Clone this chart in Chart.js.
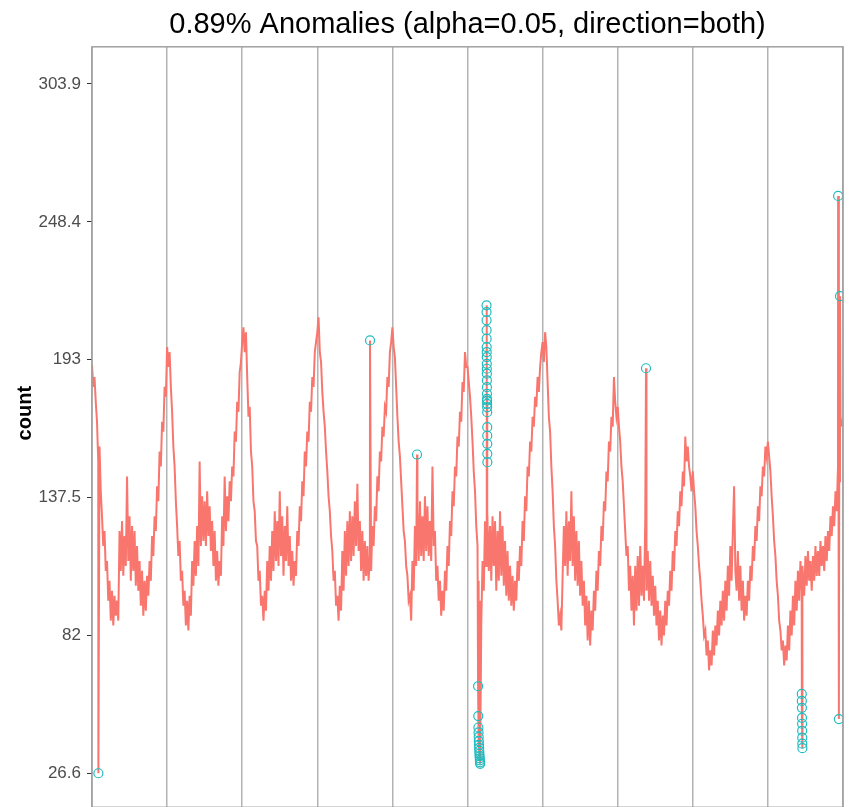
<!DOCTYPE html>
<html><head><meta charset="utf-8">
<script src="https://cdn.jsdelivr.net/npm/chart.js@4.4.1/dist/chart.umd.min.js"></script>
<style>html,body{margin:0;padding:0;background:#fff;overflow:hidden}#wrap{width:850px;height:813px}</style>
</head><body><div id="wrap"><canvas id="c" width="850" height="813"></canvas></div>
<script>
const titleText = '0.89% Anomalies (alpha=0.05, direction=both)';
const yAxisTitle = '     count';
const yTicks = [26.6, 82, 137.5, 193, 248.4, 303.9];
const yTickLabels = ['26.6', '82', '137.5', '193', '248.4', '303.9'];
const periodCount = 10;

// observed counts, one array per period (grid section)
const week1 = [191,182,186,176,168,152,158,140,130,118,124,108,112,96,104,88,100,86,98,90,96,88,124,108,128,106,122,110,146,112,130,104,126,108,124,102,118,100,112,94,108,90,104,92,106,98,112,104,122,114,130,124,142,136,156,150,168,164,182,178];
const week2 = [198,190,196,182,172,158,150,136,126,114,120,104,108,94,100,86,96,84,98,90,112,102,120,106,126,110,152,118,138,120,136,118,140,122,134,116,128,110,124,104,116,102,112,106,130,118,146,124,138,128,144,136,150,146,164,160,176,172,188,192];
const week3 = [200,206,196,204,186,170,174,156,150,136,132,120,118,104,108,94,98,88,100,92,112,100,118,104,124,108,132,112,128,110,140,114,130,106,126,112,134,110,122,104,116,102,112,106,124,118,134,128,144,138,156,150,164,160,176,172,186,182,196,200];
const week4 = [204,210,196,192,180,172,166,156,148,138,132,122,116,104,108,94,98,88,102,92,116,100,124,106,128,110,132,112,130,114,136,118,143,116,128,108,124,104,120,106,118,104,114,108,126,118,134,128,146,140,156,152,166,162,174,172,186,182,196,200];
const week5 = [206,198,194,182,170,160,154,144,134,124,120,110,106,96,98,88,112,100,126,110,132,112,136,114,130,112,138,116,134,114,128,112,150,118,124,104,110,96,104,90,100,92,108,100,118,110,128,122,140,134,150,146,162,158,172,168,184,180,196,190];
const week6 = [190,184,178,170,160,148,140,126,118,104,96,86,112,100,128,110,132,108,126,104,130,110,128,100,124,104,132,106,126,102,120,98,116,96,110,94,106,92,104,96,112,104,118,110,128,120,138,132,150,146,160,156,170,166,178,174,186,180,190,196];
const week7 = [200,192,204,198,184,170,164,150,140,126,118,104,96,86,90,84,106,126,110,132,106,128,112,140,110,130,104,124,102,120,98,112,94,104,86,98,80,96,78,92,84,100,92,108,100,116,110,126,120,136,132,148,144,160,156,170,166,186,176,170];
const week8 = [174,166,160,150,144,134,124,114,118,100,110,92,106,86,110,92,114,94,118,98,110,96,128,100,116,96,112,94,106,90,102,86,96,80,92,78,90,82,96,86,100,94,108,100,116,108,124,118,132,126,140,134,148,142,162,152,158,150,146,140];
const week9 = [148,140,134,124,118,110,104,96,90,82,84,74,80,68,76,70,84,74,86,78,92,82,96,86,100,88,104,92,110,98,118,104,124,142,108,100,116,96,110,92,104,88,98,90,104,96,110,104,118,112,126,120,134,128,142,138,150,146,158,154];
const week10 = [160,154,148,138,130,120,114,104,98,88,84,76,80,70,78,72,86,76,92,82,98,86,104,92,108,96,112,100,110,98,114,102,116,104,112,100,114,104,118,106,116,106,120,110,118,108,122,112,124,116,130,122,134,126,140,132,150,144,170,166];

// anomalies (time index, count)
const anomalyX = [8.5, 370.2, 432.8,
  514.1,514.3,514.5,514.7,514.9,515.1,515.3,515.5,515.7,515.9,516.1,516.3,516.5,516.7,516.9,
  525.3,525.35,525.4,525.45,525.5,525.55,525.6,525.65,525.7,525.75,525.8,525.85,525.9,525.95,526.0,526.05,526.1,526.15,526.2,526.25,526.3,526.35,526.4,526.45,
  737.7,
  945.1,945.2,945.3,945.4,945.5,945.6,945.7,945.8,945.9,
  993.5,994.5,996];
const anomalyY = [26.6, 200.7, 154.8,
  61.6,49.6,45.0,43.0,41.2,39.5,38.0,36.8,35.6,34.5,33.5,32.6,31.8,31.0,30.4,
  214.8,212.1,208.8,204.8,201.4,198.0,196.0,194.0,191.3,189.3,187.3,184.6,181.9,179.2,177.2,176.5,175.2,173.8,171.8,165.8,162.4,159.1,155.1,151.7,
  189.5,
  58.5,55.7,52.9,48.9,46.5,43.7,40.9,38.5,36.7,
  258.8,48.4,218.5];

const weeks = [week1, week2, week3, week4, week5, week6, week7, week8, week9, week10];
const span = 1000 / periodCount;
const series = [];
weeks.forEach((arr, w) => {
  const step = span / arr.length;
  arr.forEach((v, i) => series.push({x: w * span + i * step, y: v}));
});
const anomalies = anomalyX.map((x, i) => ({x: x, y: anomalyY[i]}));
anomalies.forEach(p => series.push({x: p.x, y: p.y}));
series.sort((a, b) => a.x - b.x);

const borderPlugin = {
  id: 'panelBorder',
  afterDraw(chart) {
    const a = chart.chartArea, ctx = chart.ctx;
    ctx.save();
    ctx.strokeStyle = '#a0a0a0';
    ctx.lineWidth = 1.5;
    ctx.strokeRect(a.left, a.top, a.right - a.left, a.bottom - a.top);
    ctx.restore();
  }
};

new Chart(document.getElementById('c'), {
  type: 'scatter',
  data: {
    datasets: [
      {
        label: 'anomalies',
        data: anomalies,
        order: 0,
        showLine: false,
        pointStyle: 'circle',
        pointRadius: 4.5,
        pointBorderWidth: 1.2,
        pointBorderColor: '#1fbcc0',
        pointBackgroundColor: 'rgba(0,0,0,0)'
      },
      {
        label: 'count',
        data: series,
        order: 1,
        showLine: true,
        borderColor: '#F8766D',
        borderWidth: 2,
        pointRadius: 0,
        tension: 0
      }
    ]
  },
  options: {
    responsive: false,
    animation: false,
    devicePixelRatio: 1,
    layout: {padding: {left: 0, right: 7, top: 0, bottom: 0}},
    plugins: {
      legend: {display: false},
      tooltip: {enabled: false},
      title: {
        display: true,
        fullSize: false,
        text: titleText,
        color: '#000',
        font: {family: 'Liberation Sans', size: 29, weight: 'normal'},
        padding: {top: 8, bottom: 4}
      }
    },
    scales: {
      x: {
        type: 'linear',
        min: 0,
        max: 1000,
        ticks: {display: false, stepSize: span},
        grid: {color: '#b3b3b3', lineWidth: 1.5, drawTicks: false},
        border: {display: false},
        afterFit(s) { s.height = 0; s.paddingLeft = 0; s.paddingRight = 0; }
      },
      y: {
        type: 'linear',
        min: 12.9,
        max: 318.8,
        afterBuildTicks(s) { s.ticks = yTicks.map(v => ({value: v})); },
        afterFit(s) { s.width = 92; s.paddingTop = 0; s.paddingBottom = 0; },
        ticks: {
          autoSkip: false,
          padding: 6,
          color: '#4d4d4d',
          font: {family: 'Liberation Sans', size: 17},
          callback: (v) => { const k = yTicks.indexOf(v); return k >= 0 ? yTickLabels[k] : ''; }
        },
        grid: {drawOnChartArea: false, drawTicks: true, tickLength: 5, tickColor: '#333', tickWidth: 1},
        border: {display: false},
        title: {
          display: true,
          text: yAxisTitle,
          color: '#000',
          font: {family: 'Liberation Sans', size: 20, weight: 'bold'},
          padding: {top: 13, bottom: 0}
        }
      }
    }
  },
  plugins: [borderPlugin]
});
</script>
</body></html>
